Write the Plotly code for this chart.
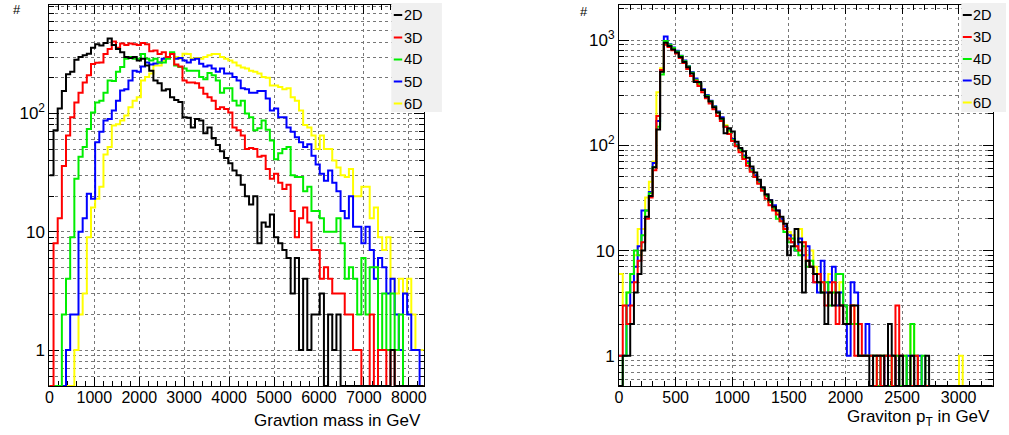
import numpy as np
import plotly.graph_objects as go

# ---------------- data ----------------
dims = ["2D", "3D", "4D", "5D", "6D"]
dim_colors = ["#000000", "#ff0000", "#00ee00", "#0000ff", "#ffff00"]

MASS_LO, MASS_HI, MASS_NBINS = 0, 8333, 90
PT_LO, PT_HI, PT_NBINS = 0, 3300, 100

mass_2D = [30, 72, 110, 155, 215, 225, 285, 300, 310, 320,
           360, 385, 375, 395, 430, 380, 350, 330, 300, 295,
           300, 280, 290, 255, 230, 190, 180, 156, 160, 137,
           130, 125, 93, 92, 76, 90, 87, 68, 76, 62,
           54, 48, 42, 38, 33, 30, 25, 20, 17, 20,
           8, 12, 11, 14, 9, 8, 7, 6, 3, 6,
           1, 4, 1, 2, 2, 3, 0, 2, 1, 2,
           0, 0, 0, 0, 0, 0, 0, 0, 0, 0,
           0, 0, 1, 0, 0, 0, 0, 0, 0, 0]
mass_3D = [0, 8, 13, 36, 65, 93, 124, 150, 183, 210,
           262, 268, 270, 318, 350, 405, 360, 390, 380, 390,
           385, 380, 395, 385, 335, 340, 318, 330, 300, 318,
           260, 250, 190, 183, 183, 180, 165, 147, 137, 128,
           109, 113, 109, 102, 76, 72, 65, 50, 51, 50,
           43, 44, 34, 28, 31, 26, 23, 25, 15, 9,
           13, 16, 12, 7, 7, 4, 5, 4, 3, 3,
           3, 2, 2, 1, 1, 0, 0, 2, 0, 1,
           1, 0, 1, 0, 0, 0, 0, 0, 0, 0]
mass_4D = [0, 0, 0, 2, 4, 9, 28, 43, 52, 74,
           102, 124, 128, 150, 190, 188, 225, 247, 290, 300,
           290, 290, 318, 290, 280, 290, 270, 270, 290, 330,
           255, 247, 240, 230, 230, 230, 203, 195, 220, 210,
           190, 150, 163, 163, 128, 117, 128, 100, 93, 72,
           75, 87, 73, 59, 41, 46, 50, 52, 30, 29,
           29, 22, 24, 15, 15, 13, 10, 10, 10, 13,
           8, 4, 5, 4, 2, 6, 2, 5, 5, 1,
           3, 1, 3, 1, 2, 0, 0, 0, 0, 0]
mass_5D = [0, 0, 0, 0, 1, 2, 2, 10, 13, 21,
           19, 57, 70, 87, 90, 106, 128, 156, 160, 190,
           230, 225, 250, 270, 260, 265, 270, 290, 300, 318,
           290, 295, 280, 270, 285, 290, 263, 250, 255, 240,
           225, 240, 218, 218, 203, 190, 163, 160, 150, 150,
           155, 155, 134, 106, 110, 93, 93, 76, 70, 63,
           57, 52, 55, 44, 37, 31, 27, 33, 26, 22,
           15, 13, 20, 11, 11, 8, 11, 7, 4, 6,
           5, 3, 4, 2, 1, 3, 2, 1, 1, 0]
mass_6D = [0, 0, 0, 0, 0, 0, 1, 2, 3, 9,
           16, 19, 24, 45, 52, 79, 81, 87, 96, 113,
           128, 137, 190, 203, 218, 255, 255, 280, 300, 325,
           300, 290, 320, 318, 290, 295, 290, 300, 310, 318,
           318, 300, 290, 280, 270, 255, 245, 240, 230, 225,
           218, 203, 200, 172, 172, 167, 160, 163, 137, 128,
           106, 80, 76, 65, 50, 65, 50, 50, 40, 35,
           30, 29, 34, 20, 20, 24, 24, 13, 16, 9,
           7, 9, 4, 3, 4, 3, 4, 2, 1, 1]

pt_2D = [0, 1, 1, 2, 4, 6, 10, 21, 33, 62,
         141, 500, 944, 880, 815, 760, 690, 620, 550, 480,
         400, 400, 335, 290, 260, 230, 205, 180, 130, 145,
         135, 108, 94, 88, 76, 63, 55, 47, 40, 34,
         30, 26, 24, 21, 18, 9, 11, 16, 12, 4,
         8, 7, 6, 5, 4, 2, 4, 3, 4, 3,
         2, 2, 3, 3, 1, 1, 1, 0, 1, 1,
         1, 0, 2, 1, 0, 1, 0, 0, 1, 0,
         0, 0, 1, 0, 0, 0, 0, 0, 0, 0,
         0, 0, 0, 0, 0, 0, 0, 0, 0, 0]
pt_3D = [1, 3, 2, 3, 5, 8, 12, 20, 32, 58,
         190, 520, 900, 860, 800, 745, 675, 605, 530, 455,
         410, 365, 320, 280, 250, 220, 190, 170, 150, 128,
         110, 98, 86, 74, 64, 56, 50, 43, 37, 31,
         27, 24, 22, 19, 16, 13, 12, 11, 10, 12,
         8, 7, 5, 6, 5, 3, 4, 5, 2, 3,
         2, 2, 3, 1, 2, 1, 1, 1, 0, 1,
         0, 1, 1, 0, 3, 1, 0, 0, 0, 1,
         0, 0, 0, 0, 0, 0, 0, 0, 0, 0,
         0, 0, 0, 0, 0, 0, 0, 0, 0, 0]
pt_4D = [0, 1, 4, 6, 10, 9, 14, 24, 35, 62,
         150, 470, 980, 900, 840, 780, 705, 630, 560, 490,
         420, 385, 335, 295, 262, 232, 205, 178, 152, 138,
         112, 100, 90, 78, 68, 58, 50, 44, 38, 33,
         29, 25, 20, 19, 15, 12, 13, 10, 9, 11,
         7, 8, 6, 5, 4, 5, 3, 4, 6, 6,
         3, 2, 2, 2, 1, 1, 1, 1, 1, 0,
         1, 1, 0, 1, 1, 0, 1, 0, 2, 1,
         0, 1, 0, 0, 0, 0, 0, 0, 0, 0,
         0, 0, 0, 0, 0, 0, 0, 0, 0, 0]
pt_5D = [1, 1, 3, 5, 7, 11, 24, 24, 36, 68,
         170, 520, 1080, 910, 850, 790, 710, 640, 565, 495,
         430, 390, 340, 300, 265, 235, 210, 185, 150, 140,
         115, 102, 92, 80, 70, 60, 52, 45, 39, 34,
         30, 27, 24, 20, 17, 14, 12, 10, 13, 9,
         11, 7, 5, 4, 8, 4, 5, 7, 3, 4,
         3, 1, 5, 4, 1, 1, 2, 1, 1, 1,
         0, 1, 1, 1, 0, 1, 0, 1, 1, 0,
         1, 0, 0, 0, 0, 0, 0, 0, 0, 0,
         0, 0, 0, 0, 0, 0, 0, 0, 0, 0]
pt_6D = [6, 3, 4, 6, 9, 16, 16, 32, 45, 70,
         320, 540, 920, 890, 835, 775, 700, 630, 555, 485,
         415, 380, 335, 295, 262, 230, 205, 180, 155, 135,
         112, 100, 90, 78, 68, 60, 52, 45, 39, 34,
         29, 26, 23, 20, 17, 15, 14, 11, 16, 12,
         9, 10, 7, 6, 5, 4, 6, 4, 3, 5,
         3, 2, 3, 2, 1, 1, 1, 1, 1, 1,
         1, 1, 0, 0, 1, 0, 1, 0, 2, 1,
         0, 0, 0, 0, 0, 0, 0, 0, 0, 0,
         0, 1, 0, 0, 0, 0, 0, 0, 0, 0]

mass_series = [mass_2D, mass_3D, mass_4D, mass_5D, mass_6D]
pt_series = [pt_2D, pt_3D, pt_4D, pt_5D, pt_6D]

# ---------------- figure ----------------
W, H = 1009, 435
FONT = "Liberation Sans, Arial, Helvetica, sans-serif"

L_X0, L_X1 = 45.7, 422.7
R_X0, R_X1 = 619.3, 995.5
Y_TOP, Y_BOT = 5, 386
L_YR = [-0.304, 2.917]
R_YR = [-0.287, 3.333]

def px(x):
    return x / W

def py(y):
    return 1 - y / H

fig = go.Figure()

def add_hist(lo, hi, nb, counts, color, xa, ya, yfloor):
    edges = np.linspace(lo, hi, nb + 1)
    vals = [c if c > 0 else yfloor for c in counts]
    x = list(edges[:-1]) + [edges[-1]]
    y = vals + [vals[-1]]
    fig.add_trace(go.Scatter(x=x, y=y, mode="lines",
                             line=dict(color=color, width=2, shape="hv"),
                             xaxis=xa, yaxis=ya, showlegend=False,
                             hoverinfo="skip"))

order = [4, 3, 2, 1, 0]
for i in order:
    add_hist(MASS_LO, MASS_HI, MASS_NBINS, mass_series[i], dim_colors[i],
             "x", "y", 10 ** L_YR[0])
for i in order:
    add_hist(PT_LO, PT_HI, PT_NBINS, pt_series[i], dim_colors[i],
             "x2", "y2", 10 ** R_YR[0])

def minor_log(maxexp):
    vals = []
    for e in range(-1, maxexp + 1):
        for d in range(2, 10):
            vals.append(d * 10 ** e)
    return vals

grid_col = "#777777"
common_x = dict(ticks="inside", tickcolor="black", ticklen=9, tickwidth=1,
                showline=True, linecolor="black", linewidth=1, mirror="allticks",
                showgrid=True, gridcolor=grid_col, griddash="dot", gridwidth=1,
                zeroline=False, layer="below traces", ticklabelstandoff=-3,
                tickfont=dict(family=FONT, size=16, color="black"))
common_y = dict(type="log", ticks="inside", tickcolor="black", ticklen=10, tickwidth=1,
                showline=True, linecolor="black", linewidth=1, mirror="allticks",
                showgrid=True, gridcolor=grid_col, griddash="dot", gridwidth=1,
                zeroline=False, layer="below traces",
                tickfont=dict(family=FONT, size=17, color="black"),
                minor=dict(tickvals=minor_log(3), ticks="inside", ticklen=5,
                           tickcolor="black", showgrid=True, gridcolor=grid_col,
                           griddash="dot", gridwidth=1))

fig.update_layout(
    width=W, height=H, margin=dict(l=0, r=0, t=0, b=0),
    paper_bgcolor="white", plot_bgcolor="white",
    font=dict(family=FONT, size=16, color="black"),
    xaxis=dict(domain=[px(L_X0), px(L_X1)], range=[MASS_LO, MASS_HI], anchor="y",
               tickvals=list(range(0, 8001, 1000)),
               minor=dict(tickvals=[v for v in range(200, 8333, 200) if v % 1000],
                          ticks="inside", ticklen=5, tickcolor="black", showgrid=False),
               **common_x),
    yaxis=dict(domain=[py(Y_BOT), py(Y_TOP)], range=L_YR, anchor="x",
               tickvals=[1, 10, 100], ticktext=["1", "10", "10<sup>2</sup>"],
               **common_y),
    xaxis2=dict(domain=[px(R_X0), px(R_X1)], range=[PT_LO, PT_HI], anchor="y2",
                tickvals=list(range(0, 3001, 500)),
                minor=dict(tickvals=[v for v in range(100, 3300, 100) if v % 500],
                           ticks="inside", ticklen=5, tickcolor="black", showgrid=False),
                **common_x),
    yaxis2=dict(domain=[py(Y_BOT), py(Y_TOP)], range=R_YR, anchor="x2",
                tickvals=[1, 10, 100, 1000],
                ticktext=["1", "10", "10<sup>2</sup>", "10<sup>3</sup>"],
                **common_y),
)

shapes = []
annotations = []

def legend(x0, x1, sx0, sx1, tx, ys):
    shapes.append(dict(type="rect", xref="paper", yref="paper",
                       x0=px(x0), x1=px(x1), y0=py(112), y1=py(3),
                       fillcolor="#f0f0f0", line=dict(width=0), layer="above"))
    for i, name in enumerate(dims):
        shapes.append(dict(type="line", xref="paper", yref="paper",
                           x0=px(sx0), x1=px(sx1), y0=py(ys[i]), y1=py(ys[i]),
                           line=dict(color=dim_colors[i], width=2), layer="above"))
        annotations.append(dict(text=name, xref="paper", yref="paper",
                                x=px(tx), y=py(ys[i]), xanchor="left", yanchor="middle",
                                showarrow=False, font=dict(family=FONT, size=14.5, color="black")))

legend(390, 441, 392.5, 401, 401, [15, 37.5, 59.5, 81.5, 103.5])
legend(964, 1009, 965.5, 974.5, 974, [15, 37, 59, 80.5, 102.5])

annotations.append(dict(text="Gravtion mass in GeV", xref="paper", yref="paper",
                        x=px(422), y=py(420), xanchor="right", yanchor="middle",
                        showarrow=False, font=dict(family=FONT, size=17, color="black")))
annotations.append(dict(text="Graviton p<sub>T</sub> in GeV", xref="paper", yref="paper",
                        x=px(995), y=py(418), xanchor="right", yanchor="middle",
                        showarrow=False, font=dict(family=FONT, size=17, color="black")))
annotations.append(dict(text="#", xref="paper", yref="paper", x=px(13), y=py(10),
                        xanchor="center", yanchor="middle", showarrow=False,
                        font=dict(family=FONT, size=13, color="black")))
annotations.append(dict(text="#", xref="paper", yref="paper", x=px(584), y=py(11),
                        xanchor="center", yanchor="middle", showarrow=False,
                        font=dict(family=FONT, size=13, color="black")))

fig.update_layout(shapes=shapes, annotations=annotations)
fig.write_html("out.html")
